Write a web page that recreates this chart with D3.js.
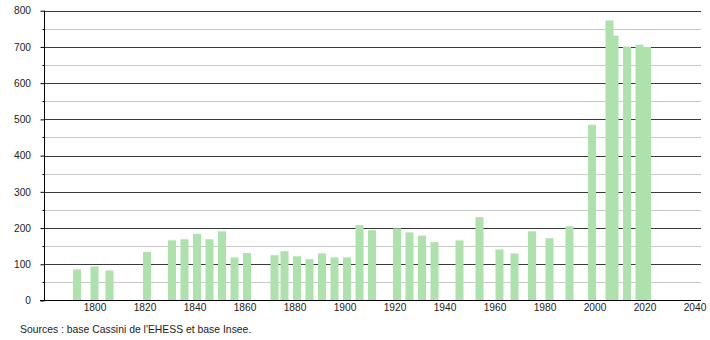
<!DOCTYPE html>
<html><head><meta charset="utf-8">
<script src="https://cdn.jsdelivr.net/npm/d3@7"></script>
<style>body{margin:0;background:#fff;}svg{display:block;}text{font-family:"Liberation Sans",Arial,sans-serif;}</style>
</head><body><svg id="c" width="710" height="340"></svg>
<script>
const years = [1793,1800,1806,1821,1831,1836,1841,1846,1851,1856,1861,1872,1876,1881,1886,1891,1896,1901,1906,1911,1921,1926,1931,1936,1946,1954,1962,1968,1975,1982,1990,1999,2006,2008,2013,2018,2021];
const population = [86,94,83,134,166,169,184,169,191,119,131,125,136,122,114,130,119,119,208,194,199,188,179,161,166,230,141,130,191,172,205,485,773,731,701,706,700];
const yTicks = [0,100,200,300,400,500,600,700,800];
const xTicks = [1800,1820,1840,1860,1880,1900,1920,1940,1960,1980,2000,2020,2040];
const sourceText = "Sources : base Cassini de l'EHESS et base Insee.";

const svg = d3.select("#c");
const x = d3.scaleLinear().domain([1780, 2042.6]).range([44.5, 701]);
const y = d3.scaleLinear().domain([0, 800]).range([300.5, 10.7]);

// minor gridlines
const minor = d3.range(50, 800, 100);
svg.append("g").selectAll("line").data(minor).join("line")
  .attr("x1", 44.5).attr("x2", 701)
  .attr("y1", d => Math.round(y(d)) + 0.5).attr("y2", d => Math.round(y(d)) + 0.5)
  .attr("stroke", "#c8c8c8").attr("stroke-width", 1);
// major gridlines
svg.append("g").selectAll("line").data(yTicks.slice(1)).join("line")
  .attr("x1", 44.5).attr("x2", 701)
  .attr("y1", d => Math.round(y(d)) + 0.5).attr("y2", d => Math.round(y(d)) + 0.5)
  .attr("stroke", "#3a3a3a").attr("stroke-width", 1);

// bars
const bw = 8;
svg.append("g").selectAll("rect").data(years).join("rect")
  .attr("x", (d) => x(d) - bw / 2)
  .attr("width", bw)
  .attr("y", (d, i) => y(population[i]))
  .attr("height", (d, i) => y(0) - y(population[i]))
  .attr("fill", "#ade2ad");

// y axis
const yAxis = d3.axisLeft(y).tickValues(yTicks).tickSize(4).tickPadding(9.5).tickFormat(d3.format("d"));
const gy = svg.append("g").attr("transform", "translate(44.5,0)").call(yAxis);
gy.select(".domain").attr("stroke", "#000").attr("d", "M0," + y(800) + "V" + y(0));
gy.selectAll(".tick line").attr("stroke", "#000");
gy.selectAll(".tick text").attr("font-size", 10.2).attr("fill", "#222");
// minor ticks on y
gy.append("g").selectAll("line").data(minor).join("line")
  .attr("x1", -2).attr("x2", 0)
  .attr("y1", d => Math.round(y(d)) + 0.5).attr("y2", d => Math.round(y(d)) + 0.5)
  .attr("stroke", "#000");

// x axis
const xAxis = d3.axisBottom(x).tickValues(xTicks).tickSize(0).tickPadding(3.5).tickFormat(d3.format("d"));
const gx = svg.append("g").attr("transform", "translate(0,300.5)").call(xAxis);
gx.select(".domain").attr("stroke", "#000").attr("d", "M40,0H701");
gx.selectAll(".tick text").attr("font-size", 10.2).attr("fill", "#222");

svg.append("text").attr("x", 20).attr("y", 333).attr("font-size", 10.4).attr("fill", "#222").text(sourceText);
</script></body></html>
